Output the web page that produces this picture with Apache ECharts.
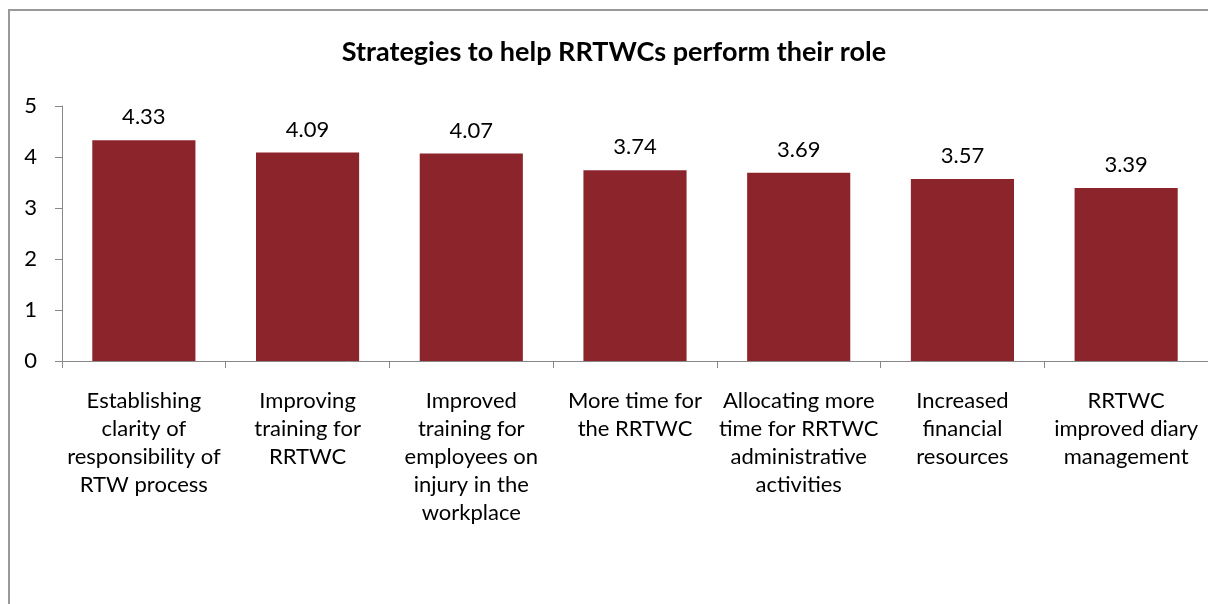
<!DOCTYPE html>
<html>
<head>
<meta charset="utf-8">
<script src="https://cdn.jsdelivr.net/npm/echarts@6/dist/echarts.min.js"></script>
<style>
html,body{margin:0;padding:0;background:#fff;}
#chart{width:1208px;height:604px;}
</style>
</head>
<body>
<div id="chart"></div>
<script>
const title = 'Strategies to help RRTWCs perform their role';
const categories = [
  'Establishing\nclarity of\nresponsibility of\nRTW process',
  'Improving\ntraining for\nRRTWC',
  'Improved\ntraining for\nemployees on\ninjury in the\nworkplace',
  'More time for\nthe RRTWC',
  'Allocating more\ntime for RRTWC\nadministrative\nactivities',
  'Increased\nfinancial\nresources',
  'RRTWC\nimproved diary\nmanagement'
];
const values = [4.33, 4.09, 4.07, 3.74, 3.69, 3.57, 3.39];
const yTicks = [0, 1, 2, 3, 4, 5];

const chart = echarts.init(document.getElementById('chart'));
const fontFam = 'Lato, "Open Sans", sans-serif';
chart.setOption({
  backgroundColor: '#ffffff',
  animation: false,
  graphic: [{
    type: 'rect',
    shape: {x: 9, y: 10, width: 1400, height: 800},
    style: {fill: 'none', stroke: '#999999', lineWidth: 2},
    silent: true
  }],
  title: {
    text: title,
    left: 609,
    textAlign: 'center',
    top: 34,
    textStyle: {fontFamily: fontFam, fontWeight: 'bold', fontSize: 27, color: '#000'}
  },
  grid: {left: 62, right: 0, top: 106, bottom: 243, containLabel: false},
  xAxis: {
    type: 'category',
    data: categories,
    axisLine: {lineStyle: {color: '#888888', width: 1}},
    axisTick: {show: true, length: 7, alignWithLabel: false, lineStyle: {color: '#888888'}},
    axisLabel: {
      interval: 0,
      margin: 26,
      fontFamily: fontFam,
      fontSize: 22,
      lineHeight: 28,
      color: '#000',
      align: 'center',
      verticalAlign: 'top'
    }
  },
  yAxis: {
    type: 'value',
    min: yTicks[0],
    max: yTicks[yTicks.length - 1],
    interval: 1,
    splitLine: {show: false},
    axisLine: {show: true, lineStyle: {color: '#888888', width: 1}},
    axisTick: {show: true, length: 7, lineStyle: {color: '#888888'}},
    axisLabel: {fontFamily: fontFam, fontSize: 22, color: '#000', margin: 25}
  },
  series: [{
    type: 'bar',
    data: values,
    barCategoryGap: '37%',
    itemStyle: {color: '#8B252B'},
    label: {
      show: true,
      position: 'top',
      distance: 12,
      fontFamily: fontFam,
      fontSize: 22,
      color: '#000',
      formatter: p => p.value.toFixed(2)
    }
  }]
});
</script>
</body>
</html>
